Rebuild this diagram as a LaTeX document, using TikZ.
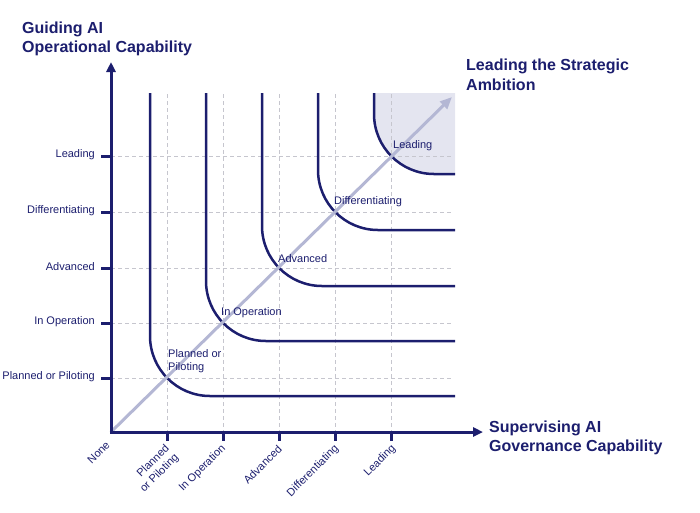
\documentclass[tikz,border=0pt]{standalone}
\usepackage{fontspec}
\setmainfont{Liberation Sans}
\usetikzlibrary{arrows.meta}
\definecolor{navy}{RGB}{28,30,110}
\definecolor{gridgray}{RGB}{198,198,206}
\definecolor{diagc}{RGB}{180,183,212}
\definecolor{shadec}{RGB}{228,229,240}
\begin{document}
\begin{tikzpicture}[x=1pt,y=-1pt,
  axis/.style={line width=3pt,navy,-{Triangle[length=10pt,width=9pt]}},
  tickmark/.style={line width=3pt,navy},
  gridline/.style={gridgray,line width=0.8pt,dash pattern=on 4pt off 3pt},
  curve/.style={navy,line width=2.5pt,rounded corners=60pt},
  lab/.style={navy,font=\fontsize{11}{13}\selectfont,inner sep=0pt},
  xlab/.style={lab,rotate=45,anchor=east,align=right},
  dlab/.style={lab,anchor=south west,align=left},
  titlelab/.style={navy,font=\fontsize{16}{19.5}\selectfont\bfseries,align=left,inner sep=0pt,anchor=base west}]
\useasboundingbox (0,0) rectangle (700,512);

% shaded region
\fill[shadec] (374,93) -- (374,114) .. controls (374,147.1) and (400.9,174) .. (434,174) -- (455,174) -- (455,93) -- cycle;

% grid
\foreach \x in {167,223,279,335,391} \draw[gridline] (\x,94) -- (\x,432);
\foreach \y in {378,323,268,212,156} \draw[gridline] (111,\y) -- (453,\y);

% curves
\draw[curve] (150,93) |- (455,396);
\draw[curve] (206,93) |- (455,341);
\draw[curve] (262,93) |- (455,286);
\draw[curve] (318,93) |- (455,230);
\draw[curve] (374,93) |- (455,174);

% diagonal
\coordinate (O) at (111,432);
\coordinate (D) at (452,97);
\draw[diagc,line width=3pt,-{Triangle[length=12pt,width=10pt]}] (O) -- (D);

% axes
\coordinate (Ytip) at (111,62);
\coordinate (Xtip) at (483,432);
\draw[axis] (111,433.5) -- (Ytip);
\draw[axis] (109.5,432) -- (Xtip);

% ticks
\foreach \x in {167,223,279,335,391} \draw[tickmark] (\x,432) -- (\x,441);
\foreach \y in {378,323,268,212,156} \draw[tickmark] (101,\y) -- (111,\y);

% y labels
\node[lab,anchor=east] (yl1) at (95,377) {Planned or Piloting};
\node[lab,anchor=east] (yl2) at (95,322) {In Operation};
\node[lab,anchor=east] (yl3) at (95,267) {Advanced};
\node[lab,anchor=east] (yl4) at (95,211) {Differentiating};
\node[lab,anchor=east] (yl5) at (95,155) {Leading};

% x labels
\node[xlab] (xl0) at (108,443) {None};
\node[xlab] (xl1) at (172.5,451.5) {Planned\\or Piloting};
\node[xlab] (xl2) at (224,447) {In Operation};
\node[xlab] (xl3) at (280,447) {Advanced};
\node[xlab] (xl4) at (337,447) {Differentiating};
\node[xlab] (xl5) at (394,447) {Leading};

% diagonal labels
\node[dlab] (dl1) at (168,373) {Planned or\\Piloting};
\node[dlab] (dl2) at (221,318) {In Operation};
\node[dlab] (dl3) at (278,263) {Advanced};
\node[dlab] (dl4) at (334,207) {Differentiating};
\node[dlab] (dl5) at (393,151) {Leading};

% titles
\node[titlelab] (ty) at (22,52.5) {Guiding AI\\Operational Capability};
\node[titlelab] (tx) at (489,451.5) {Supervising AI\\Governance Capability};
\node[titlelab] (td) at (466,90) {Leading the Strategic\\Ambition};
\end{tikzpicture}
\end{document}
